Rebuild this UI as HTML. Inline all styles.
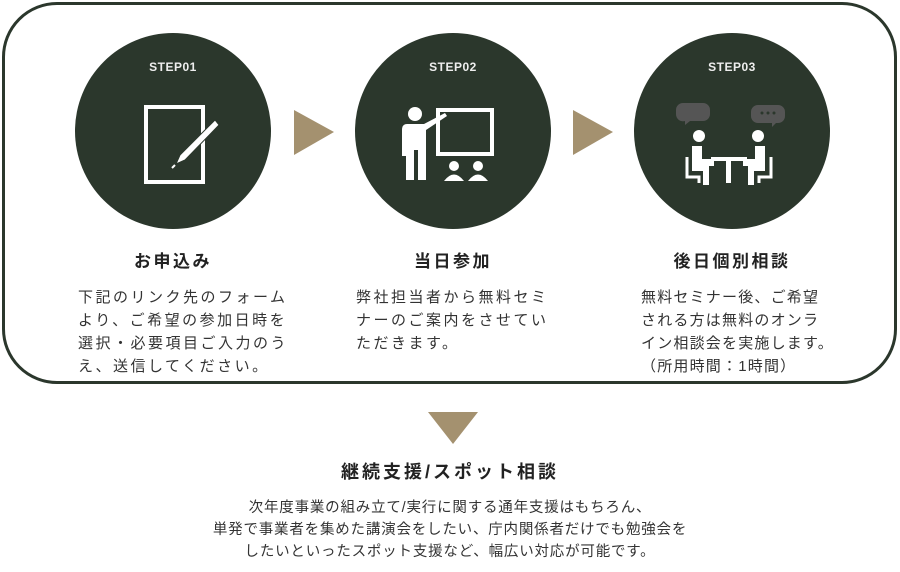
<!DOCTYPE html>
<html><head><meta charset="utf-8"><style>
*{margin:0;padding:0;box-sizing:border-box}
body{width:900px;height:572px;background:#fff;position:relative;overflow:hidden;font-family:"Liberation Sans","Noto Sans CJK JP",sans-serif;color:#333}
.box{position:absolute;left:2px;top:2px;width:895px;height:382px;border:3px solid #2b372c;border-radius:55px}
.c{position:absolute;width:196px;height:196px;border-radius:50%;background:#2b372c;top:33px}
.st{position:absolute;top:60px;width:196px;text-align:center;color:#eee;font-weight:bold;font-size:12px;letter-spacing:0.5px}
.t{position:absolute;font-weight:bold;font-size:17px;letter-spacing:2.5px;color:#222;text-align:center;width:200px;top:247px}
.d{position:absolute;font-size:15px;line-height:23px;letter-spacing:2.5px;white-space:nowrap;top:286px}
.b{position:absolute;left:0;width:900px;text-align:center;font-size:14.5px;line-height:22px;letter-spacing:0.8px;top:497px}
svg{position:absolute}
</style></head><body>
<div class="box"></div>
<div class="c" style="left:75px"></div>
<div class="c" style="left:355px"></div>
<div class="c" style="left:634px"></div>
<div class="st" style="left:75px">STEP01</div>
<div class="st" style="left:355px">STEP02</div>
<div class="st" style="left:634px">STEP03</div>
<svg width="900" height="572" style="left:0;top:0">
<polygon points="294,110 334,132 294,155" fill="#a4916f"/>
<polygon points="573,110 613,132 573,155" fill="#a4916f"/>
<polygon points="428,412 478,412 453,444" fill="#a4916f"/>
<path d="M146 107 H203 V182 H146 Z" fill="none" stroke="#fff" stroke-width="4"/>
<path d="M215 120 L180 155 L176 164 L185 160 L219 125 Z" fill="#fff" stroke="#2b372c" stroke-width="1"/>
<path d="M175 165 L172 168" stroke="#fff" stroke-width="2"/>
<rect x="438" y="110" width="54" height="44" fill="none" stroke="#fff" stroke-width="4"/>
<circle cx="415" cy="114" r="7" fill="#fff"/>
<path d="M407 124 H424 L445 113 L447 116 L426 130 V180 H418 V150 H414 V180 H406 V156 H402 V130 Q402 124 407 124Z" fill="#fff"/>
<circle cx="454" cy="166" r="5" fill="#fff"/><path d="M444 181 Q454 168 464 181Z" fill="#fff"/>
<circle cx="478" cy="166" r="5" fill="#fff"/><path d="M468 181 Q478 168 488 181Z" fill="#fff"/>
<path d="M683 103 h20 a7 7 0 0 1 7 7 v4 a7 7 0 0 1 -7 7 h-13 l-5 4 v-4 a7 7 0 0 1 -9 -7 v-4 a7 7 0 0 1 7 -7z" fill="#555"/>
<path d="M758 105 h20 a7 7 0 0 1 7 7 v4 a7 7 0 0 1 -7 7 h-2 l-4 4 v-4 h-14 a7 7 0 0 1 -7 -7 v-4 a7 7 0 0 1 7 -7z" fill="#555"/>
<circle cx="762" cy="113" r="1.5" fill="#2b372c"/><circle cx="768" cy="113" r="1.5" fill="#2b372c"/><circle cx="774" cy="113" r="1.5" fill="#2b372c"/>
<circle cx="699" cy="136" r="6" fill="#fff"/><circle cx="758" cy="136" r="6" fill="#fff"/>
<path d="M692 146 h10 v13 h12 v7 h-5 v19 h-6 v-14 h-11z" fill="#fff"/>
<path d="M765 146 h-10 v13 h-12 v7 h5 v19 h6 v-14 h11z" fill="#fff"/>
<rect x="711" y="157" width="36" height="4" fill="#fff"/><rect x="726" y="161" width="5" height="22" fill="#fff"/>
<path d="M687 157 v20 h12 v6" fill="none" stroke="#fff" stroke-width="3"/>
<path d="M771 157 v20 h-12 v6" fill="none" stroke="#fff" stroke-width="3"/>
</svg>
<div class="t" style="left:73px">お申込み</div>
<div class="t" style="left:353px">当日参加</div>
<div class="t" style="left:632px">後日個別相談</div>
<div class="d" style="left:78px">下記のリンク先のフォーム<br>より、ご希望の参加日時を<br>選択・必要項目ご入力のう<br>え、送信してください。</div>
<div class="d" style="left:356px">弊社担当者から無料セミ<br>ナーのご案内をさせてい<br>ただきます。</div>
<div class="d" style="left:641px;letter-spacing:1.2px">無料セミナー後、ご希望<br>される方は無料のオンラ<br>イン相談会を実施します。<br>（所用時間：1時間）</div>
<div class="t" style="left:0;width:900px;top:458px;font-size:18px;letter-spacing:3px">継続支援/スポット相談</div>
<div class="b">次年度事業の組み立て/実行に関する通年支援はもちろん、<br>単発で事業者を集めた講演会をしたい、庁内関係者だけでも勉強会を<br>したいといったスポット支援など、幅広い対応が可能です。</div>
</body></html>
